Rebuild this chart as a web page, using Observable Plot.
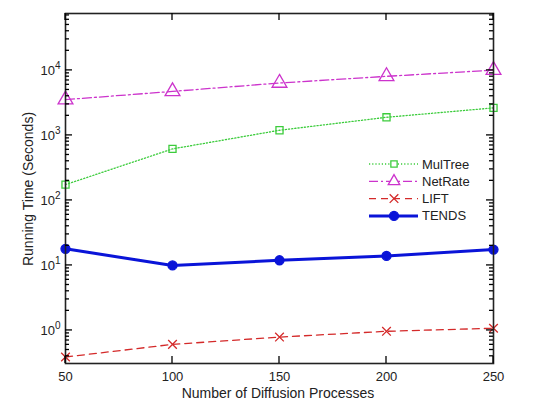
<!DOCTYPE html>
<html><head><meta charset="utf-8">
<script src="https://cdn.jsdelivr.net/npm/d3@7"></script>
<script src="https://cdn.jsdelivr.net/npm/@observablehq/plot@0.6"></script>
<style>body{margin:0;background:#fff;font-family:"Liberation Sans",Arial,sans-serif}</style>
</head><body><div id="chart"></div>
<script>
const processes = [50, 100, 150, 200, 250];
const mulTree = [175, 620, 1200, 1900, 2650];
const netRate = [3550, 4750, 6400, 8100, 10100];
const lift = [0.39, 0.61, 0.79, 0.97, 1.08];
const tends = [18, 10, 12, 14, 17.5];
const seriesNames = ["MulTree", "NetRate", "LIFT", "TENDS"];
const xTicks = [50, 100, 150, 200, 250];
const yTicks = [1, 10, 100, 1000, 10000];
const yDomain = [0.31, 75000];
const xDomain = [50, 250];

const styles = {
  MulTree: {color: "#3ccc3c", dash: "1.2,2", width: 1.3, symbol: "square", r: 4, fill: "none"},
  NetRate: {color: "#cc33cc", dash: "9,3,2,3", width: 1.3, symbol: "triangle", r: 5.5, fill: "none"},
  LIFT: {color: "#d42a2a", dash: "7,5", width: 1.3, symbol: "times", r: 4, fill: "none"},
  TENDS: {color: "#0a14d8", dash: null, width: 3, symbol: "circle", r: 4.5, fill: "#0a14d8"}
};
const valuesBy = {MulTree: mulTree, NetRate: netRate, LIFT: lift, TENDS: tends};
const data = seriesNames.flatMap(s => processes.map((p, i) => ({series: s, x: p, y: valuesBy[s][i]})));

const minor = [];
for (let e = -1; e <= 4; e++) for (let m = 2; m <= 9; m++) {
  const v = m * Math.pow(10, e);
  if (v >= yDomain[0] && v <= yDomain[1]) minor.push(v);
}

const axisColor = "#222";
const marks = [];
for (const s of seriesNames) {
  const st = styles[s];
  const d = data.filter(r => r.series === s);
  marks.push(Plot.line(d, {x: "x", y: "y", stroke: st.color, strokeWidth: st.width, strokeDasharray: st.dash}));
  marks.push(Plot.dot(d, {x: "x", y: "y", symbol: () => st.symbol, r: st.r, stroke: st.color, strokeWidth: 1.3, fill: st.fill}));
}
marks.push(
  Plot.axisY(yTicks, {anchor: "left", tickSize: 0, tickPadding: 5, fontSize: 13, fill: "#222", tickFormat: d => String(Math.round(Math.log10(d))), label: null}),
  Plot.axisX(xTicks, {anchor: "bottom", tickSize: 0, tickPadding: 8, fontSize: 13, fill: "#222", label: null}),
  Plot.frame({stroke: axisColor, strokeWidth: 1.6})
);

const chart = Plot.plot({
  width: 546, height: 403,
  marginLeft: 65, marginRight: 53, marginTop: 13, marginBottom: 40,
  style: {fontFamily: "'Liberation Sans', Arial, sans-serif", background: "#fff"},
  x: {domain: xDomain, label: null},
  y: {type: "log", domain: yDomain, label: null},
  marks
});
document.getElementById("chart").appendChild(chart);

const svg = d3.select(chart);
const xs = chart.scale("x"), ys = chart.scale("y");
const X0 = xs.apply(xDomain[0]), X1 = xs.apply(xDomain[1]);
const Y0 = ys.apply(yDomain[0]), Y1 = ys.apply(yDomain[1]);
// inward ticks drawn from the Plot scales
const tg = svg.append("g");
function tick(x1, y1, x2, y2) {
  tg.append("path").attr("d", `M${x1},${y1}L${x2},${y2}`)
    .attr("stroke", "#000").attr("stroke-width", 1.3).attr("fill", "none");
}
function hTicks(vals, len) {
  for (const v of vals) {
    const y = ys.apply(v);
    tick(X0, y, X0 + len, y);
    tick(X1, y, X1 - len, y);
  }
}
hTicks(yTicks, 7); hTicks(minor, 4);
for (const v of xTicks) {
  const x = xs.apply(v);
  tick(x, Y0, x, Y0 - 7);
  tick(x, Y1, x, Y1 + 7);
}
// superscript tick labels
svg.selectAll("text").each(function() {
  const t = d3.select(this);
  const e = t.text();
  if (!/^-?\d$/.test(e)) return;
  t.text("");
  t.append("tspan").text("10");
  t.append("tspan").attr("dy", "-0.55em").attr("font-size", "10px").text(e);
});
// axis titles
svg.append("text").attr("x", 278).attr("y", 398).attr("text-anchor", "middle")
  .attr("font-size", 14).attr("fill", "#222").text("Number of Diffusion Processes");
svg.append("text").attr("transform", "translate(33,189) rotate(-90)").attr("text-anchor", "middle")
  .attr("font-size", 14).attr("fill", "#222").text("Running Time (Seconds)");
// legend
const lg = svg.append("g").attr("font-size", 13).attr("fill", "#222").attr("text-anchor", "start");
seriesNames.forEach((s, i) => {
  const st = styles[s];
  const y = 164 + i * 17.3;
  lg.append("line").attr("x1", 369).attr("x2", 418).attr("y1", y).attr("y2", y)
    .attr("stroke", st.color).attr("stroke-width", st.width).attr("stroke-dasharray", st.dash);
  const sym = {square: d3.symbolSquare2, triangle: d3.symbolTriangle2, times: d3.symbolTimes, circle: d3.symbolCircle}[st.symbol];
  lg.append("path").attr("transform", `translate(394,${y})`)
    .attr("d", d3.symbol(sym, Math.PI * st.r * st.r)())
    .attr("stroke", st.color).attr("stroke-width", 1.3).attr("fill", st.fill === "none" ? "#fff" : st.fill);
  lg.append("text").attr("x", 422).attr("y", y + 4.5).text(s);
});
</script></body></html>
